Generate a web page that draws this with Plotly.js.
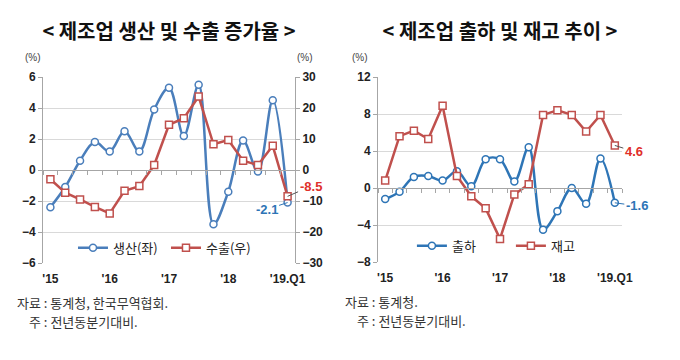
<!DOCTYPE html>
<html><head><meta charset="utf-8">
<script src="https://cdn.plot.ly/plotly-3.0.1.min.js"></script>
<style>html,body{margin:0;padding:0;background:#fff;} #wrap{display:flex;width:680px;height:360px;} .c{width:340px;height:360px;}</style>
</head><body><div id="wrap"><div id="left" class="c"></div><div id="right" class="c"></div></div>
<script>
const quarters = ['15.Q1','15.Q2','15.Q3','15.Q4','16.Q1','16.Q2','16.Q3','16.Q4','17.Q1','17.Q2','17.Q3','17.Q4','18.Q1','18.Q2','18.Q3','18.Q4','19.Q1'];
const yearTickVals = ['15.Q1','16.Q1','17.Q1','18.Q1','19.Q1'];
const yearTickText = ["'15","'16","'17","'18","'19.Q1"];
const production = [-2.4,-1.1,0.6,1.8,1.2,2.5,1.2,3.9,5.3,2.2,5.5,-3.5,-1.4,1.9,-0.1,4.5,-2.1];
const exportsGrowth = [-3.0,-7.3,-9.5,-11.9,-14.0,-6.7,-5.2,1.6,14.6,16.7,23.7,8.3,9.7,3.0,1.6,7.8,-8.5];
const shipments = [-1.2,-0.4,1.2,1.3,0.8,1.8,0.2,3.1,3.1,0.7,4.4,-4.5,-2.5,0.0,-1.7,3.2,-1.6];
const inventory = [0.8,5.6,6.2,5.3,8.9,1.3,-0.9,-2.2,-5.5,-0.7,0.4,7.9,8.4,7.9,6.1,7.9,4.6];

const FONT = '"Liberation Sans", "Noto Sans CJK KR", sans-serif';
const KFONT = '"Noto Sans CJK KR", sans-serif';
const AX = '#a6a6a6', GRID = '#d9d9d9', TXT = '#222';
const RED = '#c0504d', RED_T = '#e0302a';
const last = quarters.length - 1;

function series(y, name, color, symbol, spline, yaxis) {
  return {x: quarters, y: y, name: name, type: 'scatter', mode: 'lines+markers', xaxis: 'x', yaxis: yaxis || 'y',
    line: {color: color, width: 2.5, shape: spline ? 'spline' : 'linear'},
    marker: {symbol: symbol, size: 7, color: '#fff', line: {color: color, width: 1.5}}, hoverinfo: 'skip'};
}
function dummy(y) { return {x: quarters, y: y, xaxis: 'x2', yaxis: 'y', mode: 'none', showlegend: false, hoverinfo: 'skip'}; }

function baseLayout(opts) {
  return {
    width: 340, height: 360, margin: opts.margin, paper_bgcolor: '#fff', plot_bgcolor: '#fff',
    font: {family: FONT, color: TXT},
    title: {text: opts.title, x: 0.5, xref: 'paper', xanchor: 'center', y: 1 - 32/360, yref: 'container', yanchor: 'middle',
      font: {family: KFONT, size: 20, color: '#111', weight: 'bold'}},
    xaxis: {type: 'category', categoryarray: quarters, range: [-0.5, last + 0.5], anchor: 'free', position: opts.zeroPos,
      showline: true, linecolor: AX, linewidth: 1, ticks: 'outside', tickson: 'boundaries', tickmode: 'linear', dtick: 1, tick0: 0,
      ticklen: 4, tickcolor: AX, showticklabels: false, showgrid: false, zeroline: false, fixedrange: true},
    xaxis2: {type: 'category', categoryarray: quarters, overlaying: 'x', anchor: 'y', side: 'bottom', range: [-0.5, last + 0.5],
      tickmode: 'array', tickvals: yearTickVals, ticktext: yearTickText, ticks: '', showline: false, showgrid: false, zeroline: false,
      tickfont: {size: 12, color: TXT, weight: 'bold'}, ticklabelstandoff: 7, fixedrange: true},
    yaxis: {range: opts.yRange, dtick: opts.dtick, tick0: 0, showline: true, linecolor: AX, linewidth: 1, ticks: 'outside', ticklen: 4,
      tickcolor: AX, gridcolor: GRID, gridwidth: 1, zeroline: false, tickfont: {size: 12, color: TXT, weight: 'bold'}, fixedrange: true},
    legend: {orientation: 'h', x: opts.legX, xanchor: 'left', y: opts.legY, yanchor: 'middle', bgcolor: 'rgba(0,0,0,0)',
      font: {family: KFONT, size: 13, color: TXT}, itemwidth: 30, entrywidth: opts.entry, entrywidthmode: 'pixels', traceorder: 'normal'},
    showlegend: true,
    annotations: []
  };
}
function note(x, y, text) {
  return {xref: 'paper', yref: 'paper', x: x, y: y, xanchor: 'left', yanchor: 'middle', text: text, showarrow: false,
    font: {family: KFONT, size: 13, color: '#333'}};
}
function pct(x) {
  return {xref: 'paper', yref: 'paper', x: x, y: 1.104, xanchor: 'center', yanchor: 'middle', text: '(%)', showarrow: false,
    font: {size: 10, color: '#444'}};
}

// LEFT CHART
const L = baseLayout({margin: {l: 43, r: 45, t: 77, b: 97}, title: '< 제조업 생산 및 수출 증가율 >', zeroPos: 0.5,
  yRange: [-6, 6], dtick: 2, legX: 0.119, legY: 0.082, entry: 48});
L.yaxis2 = {range: [-30, 30], dtick: 10, tick0: 0, overlaying: 'y', side: 'right', anchor: 'x', showline: true, linecolor: AX, linewidth: 1,
  ticks: 'outside', ticklen: 4, tickcolor: AX, showgrid: false, zeroline: false, tickfont: {size: 12, color: TXT, weight: 'bold'}, fixedrange: true};
L.annotations = [
  pct(-0.04), pct(1.04),
  {xref: 'x', yref: 'y', x: quarters[last], y: production[last], text: '<b>' + production[last].toFixed(1) + '</b>', showarrow: true,
    arrowhead: 0, arrowwidth: 1, arrowcolor: '#2e75b6', ax: -21, ay: 7, font: {size: 13, color: '#2e75b6'}},
  {xref: 'x', yref: 'y2', x: quarters[last], y: exportsGrowth[last], text: '<b>' + exportsGrowth[last].toFixed(1) + '</b>', showarrow: true,
    arrowhead: 0, arrowwidth: 1, arrowcolor: '#555', ax: 23, ay: -10, font: {size: 13, color: RED_T}},
  note(-0.111, -0.212, '자료 : 통계청, 한국무역협회.'),
  note(-0.0635, -0.315, '주 : 전년동분기대비.')
];
Plotly.newPlot('left', [
  series(production, '생산(좌)', '#4a7ebb', 'circle', true, 'y'),
  series(exportsGrowth, '수출(우)', RED, 'square', false, 'y2'),
  dummy(production)
], L, {displayModeBar: false, staticPlot: true});

// RIGHT CHART
const R = baseLayout({margin: {l: 38, r: 58, t: 77, b: 98}, title: '< 제조업 출하 및 재고 추이 >', zeroPos: 0.4,
  yRange: [-8, 12], dtick: 4, legX: 0.139, legY: 0.088, entry: 54});
R.annotations = [
  pct(-0.074),
  {xref: 'x', yref: 'y', x: quarters[last], y: inventory[last], text: '<b>' + inventory[last].toFixed(1) + '</b>', showarrow: true,
    arrowhead: 0, arrowwidth: 1, arrowcolor: '#555', ax: 19, ay: 6, font: {size: 13, color: RED_T}},
  {xref: 'x', yref: 'y', x: quarters[last], y: shipments[last], text: '<b>' + shipments[last].toFixed(1) + '</b>', showarrow: true,
    arrowhead: 0, arrowwidth: 1, arrowcolor: '#2e75b6', ax: 22, ay: 3, font: {size: 13, color: '#2e75b6'}},
  note(-0.143, -0.215, '자료 : 통계청.'),
  note(-0.094, -0.318, '주 : 전년동분기대비.')
];
Plotly.newPlot('right', [
  series(shipments, '출하', '#2e75b6', 'circle', true, 'y'),
  series(inventory, '재고', RED, 'square', false, 'y'),
  dummy(shipments)
], R, {displayModeBar: false, staticPlot: true});
</script></body></html>
